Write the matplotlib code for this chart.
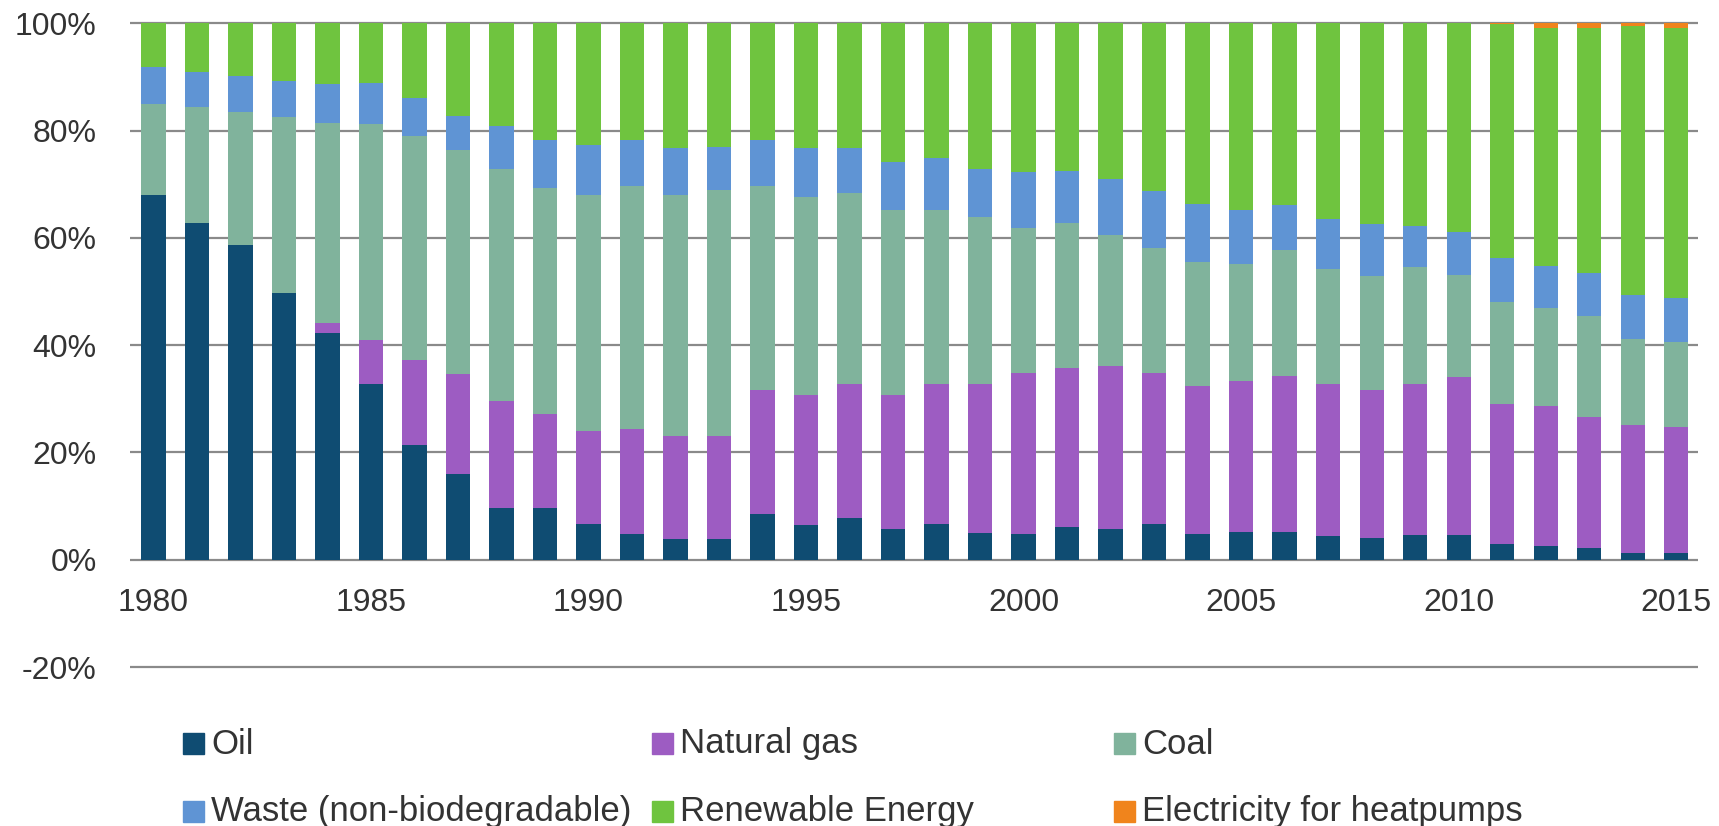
import matplotlib.pyplot as plt
from matplotlib.patches import Rectangle
import numpy as np

plt.rcParams['font.family'] = ['Liberation Sans', 'DejaVu Sans']

years = list(range(1980, 2016))
tick_years = [1980, 1985, 1990, 1995, 2000, 2005, 2010, 2015]

# shares in % per year
oil = [68.0, 62.7, 58.6, 49.7, 42.3, 32.7, 21.4, 16.0, 9.6, 9.6,
       6.6, 4.8, 3.9, 3.9, 8.6, 6.4, 7.7, 5.8, 6.6, 5.0,
       4.8, 6.1, 5.7, 6.6, 4.8, 5.1, 5.1, 4.4, 4.1, 4.7,
       4.7, 3.0, 2.6, 2.2, 1.2, 1.3]
gas = [0.0, 0.0, 0.0, 0.0, 1.9, 8.3, 15.8, 18.6, 19.9, 17.6,
       17.4, 19.5, 19.1, 19.1, 23.1, 24.3, 25.0, 24.9, 26.1, 27.7,
       30.1, 29.7, 30.5, 28.3, 27.5, 28.2, 29.2, 28.3, 27.6, 28.0,
       29.4, 26.1, 26.0, 24.4, 23.9, 23.5]
coal = [17.0, 21.7, 24.9, 32.8, 37.3, 40.2, 41.8, 41.8, 43.4, 42.1,
        44.0, 45.3, 45.0, 46.0, 37.9, 37.0, 35.7, 34.4, 32.4, 31.2,
        27.0, 27.0, 24.4, 23.2, 23.2, 21.9, 23.4, 21.5, 21.2, 21.8,
        18.9, 18.9, 18.4, 18.9, 16.1, 15.7]
waste = [6.8, 6.5, 6.7, 6.8, 7.1, 7.7, 7.0, 6.4, 8.0, 9.0,
         9.3, 8.7, 8.7, 8.0, 8.7, 9.0, 8.3, 9.0, 9.7, 9.0,
         10.3, 9.6, 10.3, 10.6, 10.9, 9.9, 8.4, 9.3, 9.7, 7.8,
         8.0, 8.2, 7.7, 7.9, 8.2, 8.2]
renewable = [8.2, 9.1, 9.8, 10.7, 11.4, 11.1, 14.0, 17.2, 19.1, 21.7,
             22.7, 21.7, 23.3, 23.0, 21.7, 23.3, 23.3, 25.9, 25.2, 27.1,
             27.8, 27.6, 29.1, 31.3, 33.6, 34.9, 33.9, 36.5, 37.4, 37.7,
             39.0, 43.6, 44.5, 45.8, 50.1, 50.4]
heatpumps = [0.0] * 31 + [0.2, 0.8, 0.8, 0.5, 0.9]

labels = ['Oil', 'Natural gas', 'Coal', 'Waste (non-biodegradable)',
          'Renewable Energy', 'Electricity for heatpumps']
colors = ['#0f4c72', '#9d5cc2', '#80b39c', '#5f94d4', '#6fc43f', '#f0841c']
series = [oil, gas, coal, waste, renewable, heatpumps]

W, H = 1719, 826
fig = plt.figure(figsize=(W / 100, H / 100), dpi=100)
ax = fig.add_axes([130 / W, 1 - 672.4 / H, (1698 - 130) / W, (672.4 - 17.9) / H])

x = np.arange(len(years))
bottom = np.zeros(len(years))
for vals, col, lab in zip(series, colors, labels):
    ax.bar(x, vals, width=0.56, bottom=bottom, color=col, label=lab, zorder=2)
    bottom += np.array(vals)

for v in range(-20, 101, 20):
    ax.axhline(v, color='#8a8a8a', lw=1.6, zorder=1)

ax.set_xlim(-0.54, 35.5)
ax.set_ylim(-21, 101)
ax.set_yticks(range(-20, 101, 20))
ax.set_yticklabels([f'{v}%' for v in range(-20, 101, 20)], fontsize=23, color='#333333')
ax.tick_params(axis='y', length=0, pad=24)
ax.set_xticks([])
for s in ax.spines.values():
    s.set_visible(False)

for yr in tick_years:
    ax.text(years.index(yr), -8.0, str(yr), ha='center', va='center',
            fontsize=23, color='#333333')

# legend laid out as a 3-column grid
col_x = [183, 652, 1114]
row_y = [744, 812]
for i in range(len(labels)):
    cx = col_x[i % 3]
    cy = row_y[i // 3]
    fig.patches.append(Rectangle((cx / W, 1 - (cy + 10) / H), 21 / W, 21 / H,
                                 transform=fig.transFigure, color=colors[i]))
    fig.text((cx + 28) / W, 1 - cy / H, labels[i], fontsize=25, color='#333333',
             va='center', ha='left')

fig.savefig('out.png', dpi=100)
